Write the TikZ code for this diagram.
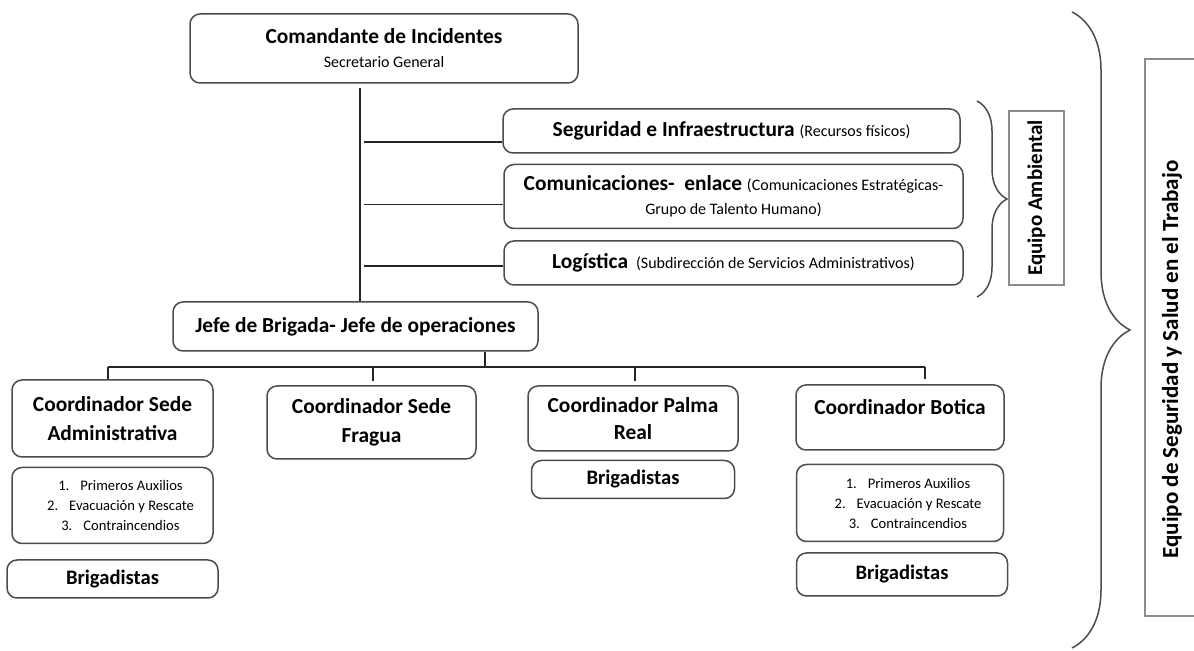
\documentclass[tikz,border=0pt]{standalone}
\usepackage{fontspec}
\setmainfont{Carlito}
\usetikzlibrary{positioning,decorations.pathreplacing}
\newcommand\boxhead{\fontsize{10.7}{14.5}\selectfont\bfseries}
\newcommand\boxnote{\fontsize{8}{12}\selectfont\mdseries}
\newcommand\boxlist{\fontsize{7.3}{10}\selectfont\mdseries}
\newcommand\boxcrew{\fontsize{10.3}{12}\selectfont\bfseries}
\newcommand\boxtag{\fontsize{10.5}{12}\selectfont\bfseries}

\begin{document}
\begin{tikzpicture}[x=0.5pt, y=-0.5pt,
  main/.style = {draw=black!70, line width=0.75pt, rounded corners=5pt, align=center, inner sep=2pt, font=\boxhead},
  crew/.style = {main, font=\boxcrew},
  drill/.style = {main, font=\boxlist},
  tag/.style = {draw=black!45, line width=0.75pt, rotate=90, inner sep=2pt, font=\boxtag},
  link/.style = {draw=black!85, line width=0.55pt},
  curly/.style = {draw=black!70, line width=0.75pt, decorate, decoration={brace, amplitude=#1}}]
\useasboundingbox (0,0) rectangle (1194,651);

\node[main, minimum width=194pt, minimum height=34.5pt] (cmd) at (384,48.5) {Comandante de Incidentes\\[-2.5pt]{\boxnote Secretario General}};

\node[main, minimum width=228.5pt, minimum height=22pt] (seg) at (731.5,131) {Seguridad e Infraestructura {\boxnote(Recursos físicos)}};
\node[main, minimum width=229.5pt, minimum height=32pt] (com) [below=5pt of seg, xshift=1pt] {Comunicaciones-\ \ enlace {\boxnote(Comunicaciones Estratégicas-}\\[-2.5pt]{\boxnote Grupo de Talento Humano)}};
\node[main, minimum width=229.5pt, minimum height=22pt] (log) [below=5.5pt of com] {Logística\hspace{4pt}{\boxnote(Subdirección de Servicios Administrativos)}};

\node[main, minimum width=182.5pt, minimum height=24.5pt] (jefe) at (355.5,326.5) {Jefe de Brigada- Jefe de operaciones};

\node[main, minimum width=100.5pt, minimum height=38.5pt] (c1) at (112.5,418.5) {Coordinador Sede\\Administrativa};
\node[main, minimum width=104.5pt, minimum height=36.5pt] (c2) at (371.5,422.5) {Coordinador Sede\\Fragua};
\node[main, minimum width=105pt, minimum height=32.5pt] (c3) at (633,418.5) {Coordinador Palma\\[-1pt]Real};
\node[main, minimum width=104pt, minimum height=32.5pt] (c4) at (900,417.5) {Coordinador Botica\\[-4pt]\mbox{}};

\node[drill, minimum width=100.5pt, minimum height=38pt] (l1) [below=4.5pt of c1] {\kern8pt1.\hspace{5.5pt}Primeros Auxilios\\\kern8pt2.\hspace{5.5pt}Evacuación y Rescate\\\kern8pt3.\hspace{5.5pt}Contraincendios};
\node[crew, minimum width=105.5pt, minimum height=19pt] (b1) [below=7.5pt of l1] {Brigadistas};
\node[crew, minimum width=101.5pt, minimum height=19pt] (b3) [below=4pt of c3] {Brigadistas};
\node[drill, minimum width=103.5pt, minimum height=38.5pt] (l4) [below=6.5pt of c4] {\kern8pt1.\hspace{5.5pt}Primeros Auxilios\\\kern8pt2.\hspace{5.5pt}Evacuación y Rescate\\\kern8pt3.\hspace{5.5pt}Contraincendios};
\node[crew, minimum width=105.5pt, minimum height=21.5pt] (b4) [below=5pt of l4, xshift=1pt] {Brigadistas};

\coordinate (trunk) at (360,88);
\coordinate (branch) at (364,88);
\draw[link] (trunk) -- (trunk |- jefe.north);
\coordinate (segin) at ([yshift=-5.5pt]seg.west);
\coordinate (comin) at ([yshift=-4pt]com.west);
\coordinate (login) at ([yshift=-1.5pt]log.west);
\foreach \n in {segin, comin, login}
  \draw[link] (\n -| branch) -- (\n);

\coordinate (fork) at (485,367);
\coordinate (s1) at ([xshift=-2.25pt]c1.north);
\coordinate (s2) at ([xshift=0.75pt, yshift=2pt]c2.north);
\coordinate (s3) at ([xshift=1pt, yshift=2pt]c3.north);
\coordinate (s4) at ([xshift=12.5pt, yshift=2.5pt]c4.north);
\draw[link] (fork |- jefe.south) -- (fork);
\draw[link] (s1 |- fork) -- (s4 |- fork);
\foreach \n in {s1, s2, s3, s4}
  \draw[link] (\n |- fork) -- (\n);

\coordinate (amb top) at (977,101);
\coordinate (amb bot) at (977,297);
\draw[curly=15pt] (amb top) -- (amb bot);
\node[tag, minimum width=87pt, minimum height=27.5pt] (amb) at (1036.5,198) {Equipo Ambiental};

\coordinate (sst top) at (1072,12);
\coordinate (sst bot) at (1072,648);
\draw[curly=29pt] (sst top) -- (sst bot);
\node[tag, minimum width=278.5pt, minimum height=27pt, font=\fontsize{11.5}{12}\selectfont\bfseries] (sst) at (1172,337.5) {Equipo de Seguridad y Salud en el Trabajo\kern22pt};

\end{tikzpicture}
\end{document}
